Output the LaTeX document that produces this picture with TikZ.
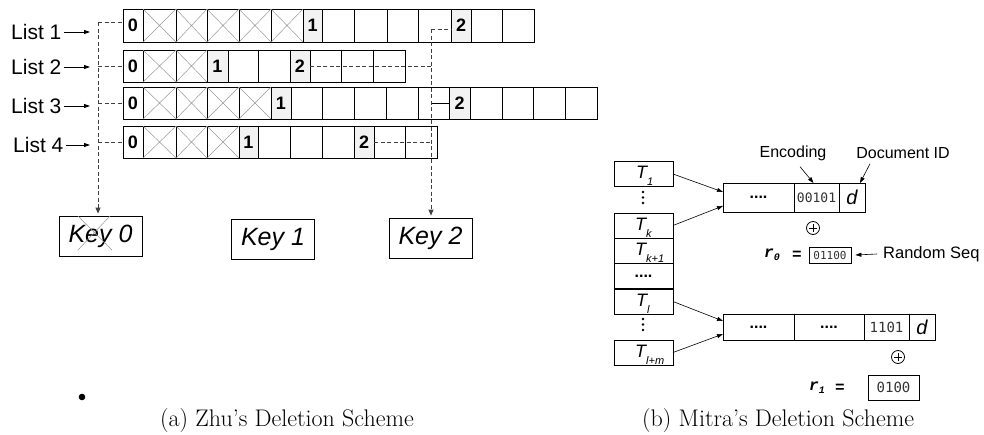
\documentclass[tikz,border=0pt]{standalone}
\usepackage{fontspec}
\setsansfont{Liberation Sans}
\newfontfamily\digitfont{DejaVu Sans Mono}
\newfontfamily\codefont{Liberation Mono}
\usetikzlibrary{arrows.meta,calc}

\newcommand\fsz[1]{\fontsize{#1}{#1}\selectfont}

\tikzset{
  cellbase/.style={draw=black, line width=0.8pt, inner sep=0pt, outer sep=0pt, font=\sffamily\bfseries\fsz{18}},
  cell0/.style={cellbase, fill=white},
  cell1/.style={cellbase, fill=black!5},
  cell2/.style={cellbase, fill=black!5},
  cell8/.style={cellbase},
  cell9/.style={cellbase},
  crossline/.style={draw=black!40, line width=0.5pt},
  dashline/.style={draw=black!75, line width=0.8pt, dash pattern=on 4pt off 2.5pt},
  solidline/.style={draw=black, line width=0.8pt},
  tip/.style={-{Triangle[length=6pt,width=5pt]}},
  smalltip/.style={-{Triangle[length=6pt,width=4pt]}},
  keybox/.style={draw, line width=0.8pt, minimum width=83pt, minimum height=40pt, inner sep=0pt, font=\sffamily\itshape\fsz{25}},
  listlabel/.style={anchor=west, inner sep=0pt, font=\sffamily\fsz{21}},
  tbox/.style={draw, line width=0.8pt, minimum width=59pt, minimum height=25pt, inner sep=0pt, outer sep=0pt},
  tname/.style={anchor=base west, inner sep=0pt, font=\sffamily\itshape\fsz{18}},
  rec/.style={draw, line width=0.8pt, inner sep=0pt, outer sep=0pt},
  dotsfont/.style={font=\sffamily\bfseries\fsz{16}},
  bitsfont/.style={font=\digitfont\color{black!80}},
  note/.style={inner sep=0pt, font=\sffamily\fsz{16}},
  xorop/.style={circle, draw, line width=0.8pt, minimum size=13pt, inner sep=0pt,
    path picture={\draw[line width=0.8pt]
      ([yshift=-2.5pt]path picture bounding box.north) -- ([yshift=2.5pt]path picture bounding box.south)
      ([xshift=2.5pt]path picture bounding box.west) -- ([xshift=-2.5pt]path picture bounding box.east);}},
  seqbox/.style={draw, line width=0.8pt, inner sep=0pt},
  caption/.style={anchor=base west, inner sep=0pt, font=\fsz{24}},
}

% one inverted-list row: prefix, top y, bottom y, cells x0/x1/kind
% kind 0,1,2 = key number, 8 = deleted entry, 9 = plain entry
\newcommand\cellrow[4]{%
  \foreach \xa/\xb/\k [count=\i] in {#4}{%
    \pgfmathsetmacro\cw{\xb-\xa}%
    \pgfmathsetmacro\ch{#3-#2}%
    \pgfmathsetmacro\cx{(\xa+\xb)/2}%
    \pgfmathsetmacro\cy{(#2+#3)/2}%
    \node[cell\k, minimum width=\cw pt, minimum height=\ch pt] (#1c\i) at (\cx,\cy) {\ifnum\k<3 \k\fi};
    \ifnum\k=8
      \draw[crossline] (#1c\i.north west) -- (#1c\i.south east) (#1c\i.north east) -- (#1c\i.south west);
    \fi
  }}

\begin{document}
\begin{tikzpicture}[x=1pt,y=-1pt]
\useasboundingbox (0,0) rectangle (984,434);

% ---------------- (a) lists and keys ----------------
\cellrow{L1}{9}{42}{123/143/0,143/176/8,176/207/8,207/239/8,239/271/8,271/303/8,303/322/1,322/354/9,354/387/9,387/418/9,418/451/9,451/471/2,471/502/9,502/534/9}
\cellrow{L2}{50}{82}{123/143/0,143/176/8,176/207/8,207/228/1,228/258/9,258/290/9,290/310/2,310/341/9,341/373/9,373/405/9}
\cellrow{L3}{87}{119}{123/143/0,143/176/8,176/207/8,207/239/8,239/271/8,271/291/1,291/322/9,322/354/9,354/386/9,386/418/9,418/449/9,449/470/2,470/502/9,502/533/9,533/565/9,565/597/9}
\cellrow{L4}{126}{158}{123/143/0,143/176/8,176/207/8,207/239/8,239/258/1,258/290/9,290/322/9,322/354/9,354/374/2,374/405/9,405/437/9}

\node[listlabel] (lab1) at (11,32) {List 1};
\node[listlabel] (lab2) at (11,67) {List 2};
\node[listlabel] (lab3) at (11,106) {List 3};
\node[listlabel] (lab4) at (13,145) {List 4};
\foreach \n in {1,2,3,4}{
  \coordinate (end\n) at (90,0 |- lab\n.east);
  \draw[solidline,smalltip] ([xshift=2pt]lab\n.east) -- (end\n);
}

\node[keybox] (k0) at (100.5,236) {Key 0};
\node[keybox] (k1) at (273,239) {Key 1};
\node[keybox] (k2) at (430.5,238) {Key 2};
\draw[crossline] (78,216) -- (112,250) (110,216) -- (78,250);

% links to key 0
\coordinate (ltop) at (98,22);
\draw[dashline] (ltop) -- (L1c1.west |- ltop);
\draw[dashline] (ltop |- L2c1.west) -- (L2c1.west);
\draw[dashline] (ltop |- L3c1.west) -- (L3c1.west);
\draw[dashline] (ltop |- L4c1.west) -- (L4c1.west);
\draw[dashline,tip] (ltop) -- ([yshift=2pt]ltop |- k0.north);

% links to key 2
\coordinate (rtop) at (431,29);
\draw[dashline] (rtop) -- (rtop -| L1c12.west);
\draw[dashline] (L2c7.east) -- (rtop |- L2c7.east);
\draw[solidline] (rtop |- L3c12.west) -- (L3c12.west);
\draw[dashline] (L4c9.east) -- (rtop |- L4c9.east);
\draw[dashline,tip] (rtop) -- ([yshift=2pt]rtop |- k2.north);

% ---------------- (b) keyword table and records ----------------
\node[tbox] (T1) at (643.5,174) {};
\node[tbox] (Tk) at (643.5,225.5) {};
\node[tbox] (Tk1) at (643.5,250.5) {};
\node[tbox,dotsfont] (Td) at (643.5,276) {....};
\node[tbox] (Tl) at (643.5,301.5) {};
\node[tbox] (Tlm) at (643.5,352.5) {};
\node[tname] at ($(T1.south west)+(22,-8)$) {T\raisebox{-7pt}{\fsz{11}1}};
\node[tname] at ($(Tk.south west)+(21,-8)$) {T\raisebox{-7pt}{\fsz{11}k}};
\node[tname] at ($(Tk1.south west)+(21,-8)$) {T\raisebox{-7pt}{\fsz{11}k+1}};
\node[tname] at ($(Tl.south west)+(22,-8)$) {T\raisebox{-7pt}{\fsz{11}l}};
\node[tname] at ($(Tlm.south west)+(21,-8)$) {T\raisebox{-7pt}{\fsz{11}l+m}};
\foreach \yy in {192,197.5,203,319,324.5,330}
  \fill (643,\yy) circle (1.3pt);

% first record
\node[rec,dotsfont,minimum width=71pt,minimum height=29pt] (ra1) at (758.5,197.5) {....};
\node[rec,bitsfont,minimum width=45pt,minimum height=29pt] (ra2) at (816.5,197.5) {\fsz{13}00101};
\node[rec,minimum width=26pt,minimum height=29pt,font=\sffamily\itshape\fsz{20}] (ra3) at (852,197.5) {d};

% second record
\node[rec,dotsfont,minimum width=71pt,minimum height=26pt] (rb1) at (758.5,327) {....};
\node[rec,dotsfont,minimum width=70pt,minimum height=26pt] (rb2) at (829,327) {....};
\node[rec,bitsfont,minimum width=45pt,minimum height=26pt] (rb3) at (886.5,327) {\fsz{14}1101};
\node[rec,minimum width=26pt,minimum height=26pt,font=\sffamily\itshape\fsz{20}] (rb4) at (922,327) {d};

\draw[line width=0.6pt,smalltip] (T1.east) -- ($(ra1.north west)!0.31!(ra1.south west)$);
\draw[line width=0.6pt,smalltip] (Tk.east) -- ($(ra1.north west)!0.79!(ra1.south west)$);
\draw[line width=0.6pt,smalltip] (Tl.east) -- ($(rb1.north west)!0.27!(rb1.south west)$);
\draw[line width=0.6pt,smalltip] (Tlm.east) -- ($(rb1.north west)!0.77!(rb1.south west)$);

\node[note] (enc) at (793,153) {Encoding};
\node[note] (doc) at (903,153) {Document ID};
\draw[line width=0.6pt,smalltip] ($(enc.south)+(7,6)$) -- ($(ra2.north)+(-3,0)$);
\draw[line width=0.6pt,smalltip] ($(doc.south)+(-33,5)$) -- ($(ra3.north)+(8,0)$);

\node[xorop] (x0) at (813,228) {};
\node[inner sep=0pt,font=\codefont\bfseries\itshape\fsz{16}] (r0) at (772,255) {r\raisebox{-3pt}{\fsz{10}0}};
\node[inner sep=0pt,font=\codefont\bfseries\fsz{16}] (eq0) at (797,255) {=};
\node[seqbox,bitsfont,minimum width=42pt,minimum height=16pt] (s0) at (830,255) {\fsz{11}01100};
\node[note,anchor=west,font=\sffamily\fsz{16.5}] (rs) at (883,254) {Random Seq};
\coordinate (rsend) at ($(s0.east)+(4,0)$);
\draw[line width=0.6pt,smalltip] (rs.west -| 877,0) -- (rsend);

\node[xorop] (x1) at (898,357) {};
\node[inner sep=0pt,font=\codefont\bfseries\itshape\fsz{16}] (r1) at (817,388) {r\raisebox{-3pt}{\fsz{10}1}};
\node[inner sep=0pt,font=\codefont\bfseries\fsz{16}] (eq1) at (840,388) {=};
\node[seqbox,bitsfont,minimum width=51pt,minimum height=25pt] (s1) at (893.5,387.5) {\fsz{14}0100};

% ---------------- captions ----------------
\node[circle,fill,inner sep=0pt,minimum size=6.6pt] (dot) at (82,397) {};
\node[caption] (capa) at (160,426) {(a) Zhu’s Deletion Scheme};
\node[caption] (capb) at (642,426) {(b) Mitra’s Deletion Scheme};
\end{tikzpicture}
\end{document}
